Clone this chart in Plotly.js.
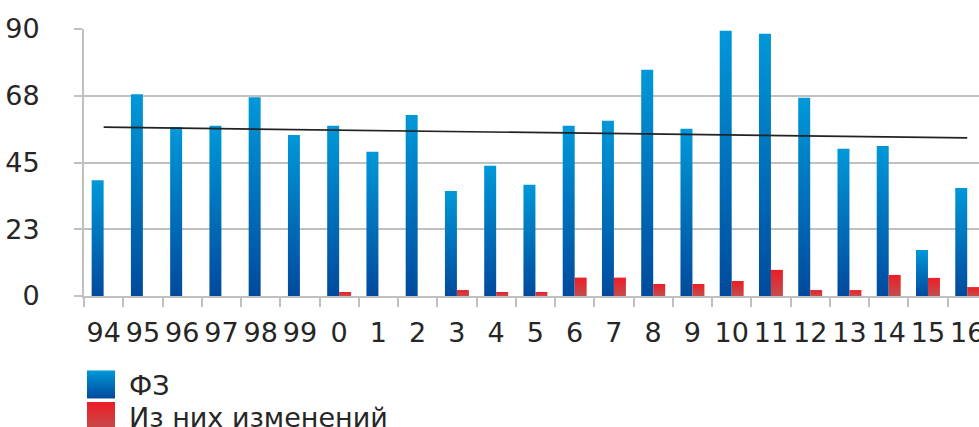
<!DOCTYPE html>
<html>
<head>
<meta charset="utf-8">
<script src="https://cdn.plot.ly/plotly-3.0.1.min.js"></script>
<style>
  html, body { margin: 0; padding: 0; background: #fff; }
  #chart { width: 979px; height: 427px; }
</style>
</head>
<body>
<svg width="0" height="0" style="position:absolute">
  <defs>
    <linearGradient id="gBlue" x1="0" y1="0" x2="0" y2="1">
      <stop offset="0" stop-color="#0098D9"/>
      <stop offset="1" stop-color="#004A9D"/>
    </linearGradient>
    <linearGradient id="gRed" x1="0" y1="0" x2="0" y2="1">
      <stop offset="0" stop-color="#EC1D25"/>
      <stop offset="1" stop-color="#C44D4D"/>
    </linearGradient>
  </defs>
</svg>
<div id="chart"></div>
<script>
// Categories (years)
var categories = ["94","95","96","97","98","99","0","1","2","3","4","5","6","7","8","9","10","11","12","13","14","15","16"];
// ФЗ
var fzValues = [39, 68, 57, 57.4, 67, 54.3, 57.4, 48.6, 61, 35.4, 43.9, 37.5, 57.4, 59.1, 76.3, 56.4, 89.4, 88.4, 66.8, 49.6, 50.6, 15.5, 36.4];
// Из них изменений
var changeValues = [0, 0, 0, 0, 0, 0, 1.35, 0, 0, 2, 1.35, 1.35, 6.2, 6.2, 4.05, 4.05, 5.06, 8.8, 2, 2, 7.1, 6.1, 3];
// Linear trend endpoints
var trendX = ["94", "16"];
var trendY = [56.9, 53.3];
// Y tick labels
var yTickVals = [0, 22.5, 45, 67.5, 90];
var yTickText = ["0", "23", "45", "68", "90"];

var textColor = "#262626";
var gridColor = "#C0C0C0";
var fontFam = "DejaVu Sans, Verdana, sans-serif";

var data = [
  { type: "bar", name: "ФЗ", x: categories, y: fzValues, marker: { color: "#0072BC" } },
  { type: "bar", name: "Из них изменений", x: categories, y: changeValues, marker: { color: "#E02A2E" } },
  { type: "scatter", mode: "lines", x: trendX, y: trendY, showlegend: false,
    line: { color: "#222222", width: 1.7 } }
];

var layout = {
  width: 979, height: 427,
  margin: { l: 84, r: 0, t: 29, b: 131, autoexpand: false },
  paper_bgcolor: "#ffffff", plot_bgcolor: "#ffffff",
  barmode: "group", bargap: 0.39, bargroupgap: 0,
  font: { family: fontFam, size: 27, color: textColor },
  hovermode: false,
  xaxis: {
    type: "category",
    range: [-0.5, 22.3],
    tickmode: "linear", tick0: 0, dtick: 1,
    tickangle: 0,
    tickson: "boundaries",
    ticks: "outside", ticklen: 9, tickwidth: 2, tickcolor: gridColor,
    showline: true, linecolor: gridColor, linewidth: 2,
    showgrid: false,
    automargin: false,
    tickfont: { family: fontFam, size: 27, color: textColor },
    ticklabelstandoff: 12
  },
  yaxis: {
    range: [0, 90],
    tickvals: yTickVals, ticktext: yTickText,
    ticks: "outside", ticklen: 8, tickwidth: 2, tickcolor: gridColor,
    showline: true, linecolor: gridColor, linewidth: 2,
    showgrid: true, gridcolor: gridColor, gridwidth: 2,
    zeroline: false,
    automargin: false,
    tickfont: { family: fontFam, size: 27, color: textColor },
    ticklabelstandoff: 29
  },
  showlegend: true,
  legend: {
    orientation: "v",
    xref: "container", yref: "container",
    x: 73 / 979, xanchor: "left",
    y: 0, yanchor: "bottom",
    itemwidth: 46,
    tracegroupgap: 0,
    font: { family: fontFam, size: 27, color: textColor },
    bgcolor: "rgba(0,0,0,0)", borderwidth: 0
  }
};

var fills = ["url(#gBlue)", "url(#gRed)"];
var legendCenter = 385.5, legendStep = 31.5;
function restyleSvg(gd) {
  gd.querySelectorAll(".barlayer .trace").forEach(function (t, i) {
    t.querySelectorAll("path").forEach(function (p) { p.style.fill = fills[i]; });
  });
  gd.querySelectorAll(".legend, .legend .scrollbox").forEach(function (s) { s.removeAttribute("clip-path"); });
  gd.querySelectorAll(".legend .scrollbar").forEach(function (s) { s.style.display = "none"; });
  var items = gd.querySelectorAll(".legend .traces");
  var delta = null;
  items.forEach(function (t, i) {
    t.querySelectorAll(".legendpoints path").forEach(function (p) {
      p.setAttribute("d", "M14,14H-14V-14H14Z");
      p.style.fill = fills[i];
      p.style.stroke = "none";
    });
    var tr = t.getAttribute("transform") || "";
    var m = tr.match(/translate\(\s*([-\d.e]+)[ ,]+([-\d.e]+)\s*\)/);
    if (!m) return;
    var tx = parseFloat(m[1]), ty = parseFloat(m[2]);
    if (i === 0) {
      var txt = t.querySelector(".legendtext");
      var r = txt.getBoundingClientRect();
      var c = r.top + r.height / 2;
      delta = legendCenter - c;
      t.setAttribute("transform", "translate(" + tx + "," + (ty + delta) + ")");
      t.setAttribute("data-base", ty + delta);
    } else {
      var base = parseFloat(items[0].getAttribute("data-base"));
      t.setAttribute("transform", "translate(" + tx + "," + (base + legendStep * i) + ")");
    }
  });
}

Plotly.newPlot("chart", data, layout, { staticPlot: true, displayModeBar: false }).then(function (gd) {
  restyleSvg(gd);
});
</script>
</body>
</html>
